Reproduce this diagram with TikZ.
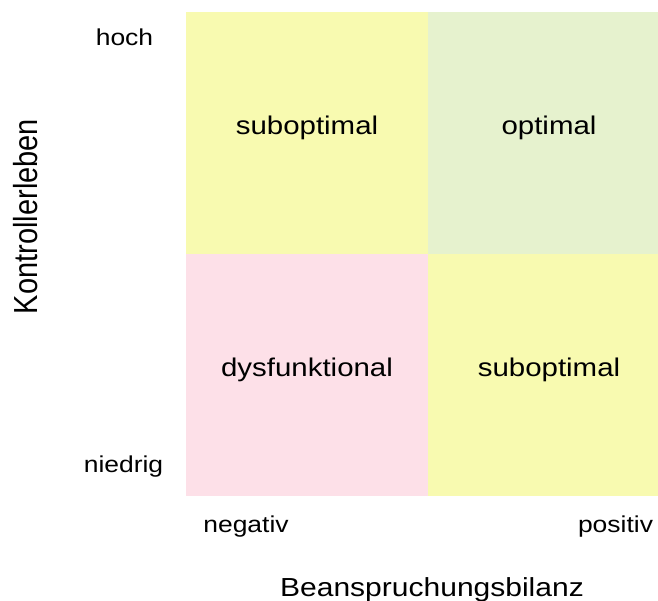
\documentclass[tikz,border=0pt]{standalone}
\usepackage{fontspec}
\setmainfont{Liberation Sans}[FakeStretch=1.15]
\newfontfamily\plainsans{Liberation Sans}
\usepackage{tikz}

\definecolor{paleyellow}{RGB}{248,250,176}
\definecolor{palegreen}{RGB}{230,242,206}
\definecolor{palepink}{RGB}{253,224,232}

\tikzset{
  quad/.style={minimum width=242pt,minimum height=242pt,inner sep=0pt,anchor=north west},
  quadtext/.style={anchor=base,inner sep=0pt,font=\fontsize{25.6}{30}\selectfont},
  ticktext/.style={anchor=base,inner sep=0pt,font=\fontsize{23}{27}\selectfont}
}

\begin{document}
\begin{tikzpicture}[x=1pt,y=-1pt]
      \clip (0,0) rectangle (658,601);
      \fill[white] (0,0) rectangle (658,601);
      %% the four fields
      \node[quad,fill=paleyellow] (1) at (186,12) {};
      \node[quad,fill=palegreen] (2) at (428,12) {};
      \node[quad,fill=palepink] (3) at (186,254) {};
      \node[quad,fill=paleyellow] (4) at (428,254) {};
      %% field labels
      \node[quadtext] (t1) at (307,135) {suboptimal};
      \node[quadtext] (t2) at (549,135) {optimal};
      \node[quadtext] (t3) at (307,376) {dysfunktional};
      \node[quadtext] (t4) at (549,376) {suboptimal};
      %% axis ends
      \node[ticktext] (hi) at (124.5,46) {hoch};
      \node[ticktext] (lo) at (123.5,472) {niedrig};
      \node[ticktext] (neg) at (246,532) {negativ};
      \node[ticktext] (pos) at (615.5,532) {positiv};
      %% axis titles
      \node[anchor=base,inner sep=0pt,font=\fontsize{26.1}{31}\selectfont] (xlab) at (432,596) {Beanspruchungsbilanz};
      \node[anchor=base,inner sep=0pt,rotate=90,font=\plainsans\fontsize{29}{34}\selectfont] (ylab) at (37,216.5) {\scalebox{1}[1.15]{Kontrollerleben}};
\end{tikzpicture}
\end{document}
